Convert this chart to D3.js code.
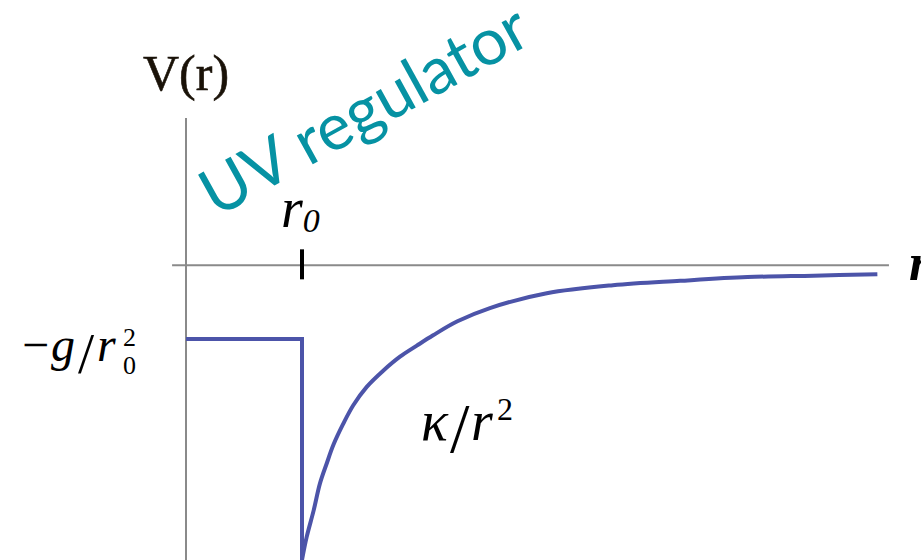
<!DOCTYPE html>
<html>
<head>
<meta charset="utf-8">
<script src="https://cdn.jsdelivr.net/npm/d3@7"></script>
<style>
  html, body { margin: 0; padding: 0; background: #fff; }
  svg { display: block; }
</style>
</head>
<body>
<svg id="chart" width="921" height="560"></svg>
<script>
// Potential V(r): constant core inside r0, then an attractive tail beyond it.
const rDomain = [0, 6];
const vDomain = [-4, 2];

// Marked radius on the r axis
const rTicks = [1];

// Flat core (regulated region) up to r0, then the drop at r0
const stepR = [0, 1, 1];
const stepV = [-1, -1, -4];

// Tail of the potential beyond r0
const tailR = [1.0, 1.04, 1.10, 1.155, 1.213, 1.27, 1.356, 1.442, 1.558, 1.70, 1.845, 1.99, 2.13, 2.34, 2.62, 3.11, 3.68, 4.26, 4.84, 5.41, 5.96];
const tailV = [-4.0, -3.69, -3.33, -2.96, -2.69, -2.44, -2.15, -1.90, -1.65, -1.43, -1.24, -1.09, -0.95, -0.76, -0.58, -0.38, -0.27, -0.21, -0.16, -0.14, -0.12];

const serif = "'Liberation Serif', 'Times New Roman', serif";

const svg = d3.select("#chart");

const x = d3.scaleLinear().domain(rDomain).range([186, 882]);
const y = d3.scaleLinear().domain(vDomain).range([560, 118]);

const axisColor = "#8a8a8a";
const lineColor = "#4c54a9";

// r axis (horizontal, through V = 0)
svg.append("line")
  .attr("x1", x(-0.12)).attr("x2", x(6.06))
  .attr("y1", y(0)).attr("y2", y(0))
  .attr("stroke", axisColor).attr("stroke-width", 2);

// V axis (vertical, at r = 0)
svg.append("line")
  .attr("x1", x(0)).attr("x2", x(0))
  .attr("y1", y(2)).attr("y2", y(-4))
  .attr("stroke", axisColor).attr("stroke-width", 2);

// tick at r0
svg.selectAll("line.tick")
  .data(rTicks)
  .join("line")
  .attr("class", "tick")
  .attr("x1", d => x(d)).attr("x2", d => x(d))
  .attr("y1", y(0) - 16).attr("y2", y(0) + 14)
  .attr("stroke", "#000").attr("stroke-width", 4);

// potential curves
const line = d3.line()
  .x(d => x(d[0]))
  .y(d => y(d[1]));

svg.append("path")
  .datum(d3.zip(stepR, stepV))
  .attr("d", line)
  .attr("fill", "none")
  .attr("stroke", lineColor)
  .attr("stroke-width", 4)
  .attr("stroke-linejoin", "miter");

svg.append("path")
  .datum(d3.zip(tailR, tailV))
  .attr("d", line.curve(d3.curveCatmullRom.alpha(0.5)))
  .attr("fill", "none")
  .attr("stroke", lineColor)
  .attr("stroke-width", 4)
  .attr("stroke-linecap", "butt");

// axis titles
svg.append("text")
  .attr("x", 143).attr("y", 90)
  .attr("font-family", serif)
  .attr("font-size", 50)
  .attr("fill", "#1a1208")
  .attr("stroke", "#1a1208").attr("stroke-width", 0.6)
  .text("V(r)");

svg.append("text")
  .attr("x", 909).attr("y", 280)
  .attr("font-family", serif)
  .attr("font-style", "italic")
  .attr("font-weight", "bold")
  .attr("font-size", 52)
  .attr("fill", "#000")
  .text("r");

// r0 label above its tick
const r0Label = svg.append("text")
  .attr("x", x(rTicks[0]) - 21).attr("y", 227)
  .attr("font-family", serif)
  .attr("font-style", "italic")
  .attr("fill", "#000");
r0Label.append("tspan").attr("font-size", 56).text("r");
r0Label.append("tspan").attr("font-size", 34).attr("dy", 5).text("0");

// level of the flat core: -g / r0^2
const coreY = y(stepV[0]) + 22;
const coreLabel = svg.append("text")
  .attr("font-family", serif)
  .attr("fill", "#000")
  .attr("font-size", 48);
coreLabel.append("tspan").attr("x", 22).attr("y", coreY).text("\u2212");
coreLabel.append("tspan").attr("x", 51).attr("y", coreY).attr("font-style", "italic").text("g");
coreLabel.append("tspan").attr("x", 78).attr("y", coreY + 12).attr("font-size", 58).text("/");
coreLabel.append("tspan").attr("x", 97).attr("y", coreY).attr("font-style", "italic").text("r");
coreLabel.append("tspan").attr("x", 123).attr("y", coreY - 15).attr("font-size", 26).text("2");
coreLabel.append("tspan").attr("x", 123).attr("y", coreY + 13).attr("font-size", 26).text("0");

// tail label: kappa / r^2
const tailY = 440;
const tailLabel = svg.append("text")
  .attr("font-family", serif)
  .attr("fill", "#000")
  .attr("font-size", 56);
tailLabel.append("tspan").attr("x", 421).attr("y", tailY).attr("font-style", "italic").text("\u03ba");
tailLabel.append("tspan").attr("x", 450).attr("y", tailY + 12).attr("font-size", 70).text("/");
tailLabel.append("tspan").attr("x", 471).attr("y", tailY).attr("font-style", "italic").text("r");
tailLabel.append("tspan").attr("x", 497).attr("y", tailY - 20).attr("font-size", 32).text("2");

// annotation for the flat core
svg.append("text")
  .attr("transform", "translate(216,218) rotate(-29)")
  .attr("font-family", "Lato, 'Open Sans', sans-serif")
  .attr("font-size", 65)
  .attr("fill", "#0692a3")
  .text("UV regulator");
</script>
</body>
</html>
